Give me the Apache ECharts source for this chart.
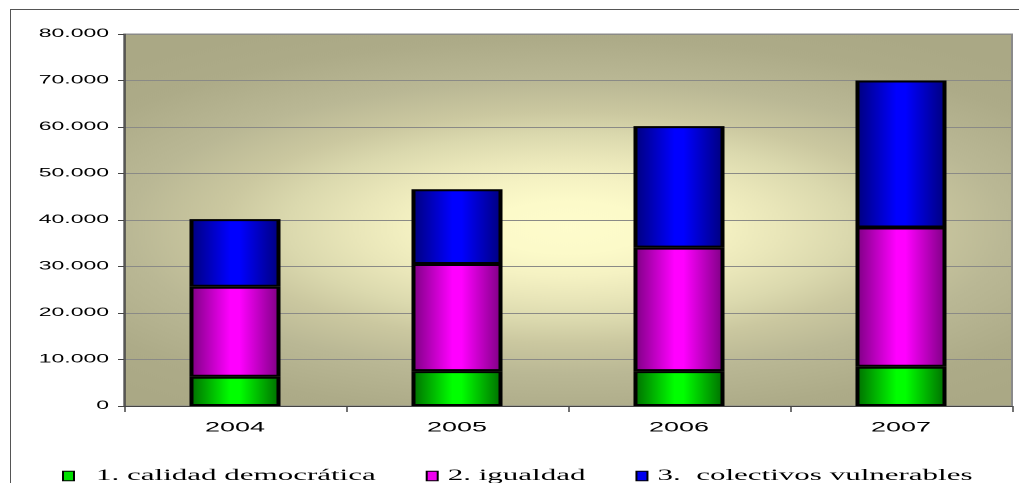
<!DOCTYPE html>
<html>
<head>
<meta charset="utf-8">
<script src="https://cdn.jsdelivr.net/npm/echarts@6/dist/echarts.min.js"></script>
<style>
  html, body { margin: 0; padding: 0; background: #ffffff; width: 1019px; height: 483px; overflow: hidden; }
  #frame { position: absolute; left: 10px; top: 9px; width: 1100px; height: 600px;
           border-top: 1.5px solid #555; border-left: 1.5px solid #555; }
  #chart { position: absolute; left: 0; top: 0; width: 509.5px; height: 483px;
           transform: scaleX(2); transform-origin: 0 0; }
</style>
</head>
<body>
<div id="frame"></div>
<div id="chart"></div>
<script>
// ---- data ----
const years = ['2004', '2005', '2006', '2007'];
const seriesNames = ['1. calidad democrática', '2. igualdad', '3.  colectivos vulnerables'];
const calidad = [6300, 7500, 7500, 8450];
const igualdad = [19350, 23050, 26550, 29950];
const colectivos = [14550, 16050, 26150, 31600];
const yMin = 0, yMax = 80000, yStep = 10000;

// ---- layout (chart drawn at half width, stretched 2x horizontally like the original) ----
const W = 509.5, H = 483;
const gridLeft = 62, gridRight = 4, gridTop = 34, gridBottom = 77;
const plotW = W - gridLeft - gridRight, plotH = H - gridTop - gridBottom;
const glowStretch = 1.5;

function barGrad(dark, bright) {
  return new echarts.graphic.LinearGradient(0, 0, 1, 0, [
    { offset: 0, color: dark },
    { offset: 0.45, color: bright },
    { offset: 0.55, color: bright },
    { offset: 1, color: dark }
  ]);
}
function fmt(v) {
  return String(v).replace(/\B(?=(\d{3})+(?!\d))/g, '.');
}

const chart = echarts.init(document.getElementById('chart'), null, { devicePixelRatio: 2 });
const colors = [
  { dark: '#006a00', bright: '#00ff00', flat: '#00e000' },
  { dark: '#7a0080', bright: '#ff00ff', flat: '#ee00ee' },
  { dark: '#00007a', bright: '#0000ff', flat: '#0000ee' }
];
const values = [calidad, igualdad, colectivos];

chart.setOption({
  animation: false,
  graphic: [{
    type: 'rect',
    silent: true,
    z: -10,
    x: gridLeft, y: gridTop,
    scaleX: glowStretch,
    shape: { x: 0, y: 0, width: plotW / glowStretch, height: plotH },
    style: {
      fill: new echarts.graphic.RadialGradient(0.5, 0.52, 0.75, [
        { offset: 0, color: '#fefccc' },
        { offset: 0.12, color: '#fcfac9' },
        { offset: 0.22, color: '#f5f2c3' },
        { offset: 0.32, color: '#e9e6b9' },
        { offset: 0.42, color: '#dbd9ae' },
        { offset: 0.52, color: '#cbc8a0' },
        { offset: 0.66, color: '#bab895' },
        { offset: 0.85, color: '#adab88' },
        { offset: 1, color: '#aaa885' }
      ])
    }
  }],
  grid: {
    left: gridLeft, right: gridRight, top: gridTop, bottom: gridBottom,
    show: true,
    backgroundColor: 'transparent',
    borderColor: '#8a8a8a', borderWidth: 1
  },
  legend: {
    left: 31, top: 468, padding: 0,
    itemWidth: 5.5, itemHeight: 9.5, itemGap: 25,
    icon: 'rect',
    selectedMode: false,
    itemStyle: { borderColor: '#000', borderWidth: 1 },
    textStyle: { fontFamily: 'Liberation Serif', fontSize: 15.5, color: '#000' },
    data: seriesNames.map((n, i) => ({
      name: n,
      itemStyle: { color: colors[i].flat, borderColor: '#000', borderWidth: 1 },
      textStyle: i === 0 ? { padding: [0, 0, 0, 6] } : {}
    }))
  },
  xAxis: {
    type: 'category',
    data: years,
    axisLine: { lineStyle: { color: '#444', width: 1 } },
    axisTick: { show: true, length: 6, lineStyle: { color: '#444', width: 0.75 } },
    axisLabel: { color: '#000', fontFamily: 'Liberation Sans', fontSize: 13.5, margin: 15 },
    splitLine: { show: false }
  },
  yAxis: {
    type: 'value',
    min: yMin, max: yMax, interval: yStep,
    axisLine: { show: true, lineStyle: { color: '#444', width: 0.75 } },
    axisTick: { show: true, length: 3, lineStyle: { color: '#444', width: 1 } },
    axisLabel: { color: '#000', fontFamily: 'Liberation Sans', fontSize: 11.5, margin: 7.5,
                 formatter: fmt },
    splitLine: { show: true, lineStyle: { color: '#8a8a86', width: 1 } }
  },
  series: seriesNames.map((n, i) => ({
    name: n,
    type: 'bar',
    stack: 'total',
    barWidth: '41%',
    data: values[i],
    itemStyle: { color: barGrad(colors[i].dark, colors[i].bright), borderColor: '#000', borderWidth: 2 },
    emphasis: { disabled: true }
  }))
});
</script>
</body>
</html>
